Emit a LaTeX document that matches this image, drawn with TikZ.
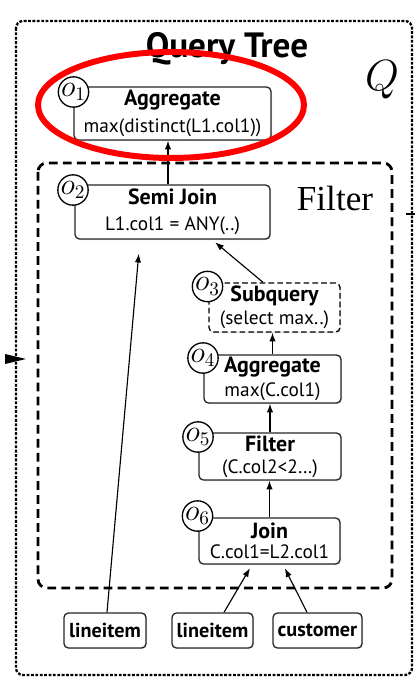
\documentclass[tikz,border=0pt]{standalone}
\usepackage{fontspec}
\setmainfont{PT Sans}
\newfontfamily\letraserif{Liberation Serif}
\usetikzlibrary{arrows.meta,calc,shadows}

\newcommand{\opnombre}[1]{{\fontsize{12.5}{15}\selectfont\bfseries #1}}

\tikzset{
	caja/.style={draw=black!85, line width=.75pt, rounded corners=2.5pt, fill=white,
		drop shadow={opacity=.25, shadow xshift=.6pt, shadow yshift=-.6pt},
		align=center, inner sep=0pt, font=\fontsize{11}{15}\selectfont},
	hoja/.style={caja, minimum height=.7cm, font=\fontsize{11.5}{12}\selectfont\bfseries},
	oper/.style={circle, draw=black, line width=.75pt, fill=white,
		minimum size=.58cm, inner sep=0pt, font=\fontsize{16}{16}\selectfont},
	flecha/.style={-{Latex[length=5pt,width=3.6pt]}, line width=.65pt, black},
}

\begin{document}
\begin{tikzpicture}[x=.02cm, y=-.02cm]
\useasboundingbox (0,0) rectangle (415,678);

%%%%%%%%%%%%%%%%%%%%%%%%%%%%%%%%%%%%%%%%%%%%%%%% 	MARCO EXTERIOR (Q)
\draw[black, line width=1.3pt, dash pattern=on 1.6pt off .9pt,
			rounded corners=4pt] (16,21) rectangle (412,675);
\node[font=\fontsize{20}{20}\selectfont\bfseries, anchor=base] (titulo) at (227,58) {Query Tree};
\node[font=\fontsize{23}{23}\selectfont, anchor=base] (q) at (382,91) {$Q$};

\fill (5,354) -- (26,359) -- (5,364) -- cycle;		%%%%	flecha que entra por la izquierda
\draw[line width=1.5pt] (406,214) -- (415,214);		%%%%	salida por la derecha

%%%%%%%%%%%%%%%%%%%%%%%%%%%%%%%%%%%%%%%%%%%%%%%% 	CAJA DEL FILTRO
\draw[line width=1.6pt, dash pattern=on 5pt off 3pt,
			rounded corners=5pt] (38,163) rectangle (392,588);
\node[font=\letraserif\fontsize{20}{20}\selectfont, anchor=base] (filtro) at (335,211) {Filter};

%%%%%%%%%%%%%%%%%%%%%%%%%%%%%%%%%%%%%%%%%%%%%%%% 	OPERADORES
\node[caja, minimum width=3.94cm, minimum height=1.06cm] (agg1) at (172.5,113.5)
	{\opnombre{Aggregate}\\max(distinct(L1.col1))};
\node[caja, minimum width=3.9cm, minimum height=1.08cm] (semi) at (172.5,212)
	{\opnombre{Semi Join}\\L1.col1 = ANY(..)};
\node[caja, draw=black, dash pattern=on 3.2pt off 1.8pt, minimum width=2.62cm, minimum height=.98cm,
	font=\fontsize{11}{13}\selectfont] (subq) at (274.5,307.5)
	{\opnombre{Subquery}\\(select max..)};
\node[caja, minimum width=2.74cm, minimum height=.96cm,
	font=\fontsize{11}{14}\selectfont] (agg2) at (272.5,379)
	{\opnombre{Aggregate}\\max(C.col1)};
\node[caja, minimum width=2.84cm, minimum height=.94cm,
	font=\fontsize{11}{12.5}\selectfont] (filt) at (270,456.5)
	{\opnombre{Filter}\\(C.col2<2\dots)};
\node[caja, minimum width=2.82cm, minimum height=.92cm,
	font=\fontsize{11}{11.5}\selectfont] (join) at (269.5,541)
	{\opnombre{Join}\\C.col1=L2.col1};

%%%%%%%%%%%%%%%%%%%%%%%%%%%%%%%%%%%%%%%%%%%%%%%% 	TABLAS
\node[hoja, minimum width=1.64cm] (li1) at (105,630.5) {lineitem};
\node[hoja, minimum width=1.62cm] (li2) at (212.5,630.5) {lineitem};
\node[hoja, minimum width=1.78cm] (cust) at (317.5,630.5) {customer};

%%%%%%%%%%%%%%%%%%%%%%%%%%%%%%%%%%%%%%%%%%%%%%%% 	ETIQUETAS o_i
\node[oper] (c1) at (73.5,92) {$o_1$};
\node[oper] (c2) at (73,190) {$o_2$};
\node[oper] (c3) at (207.5,286.5) {$o_3$};
\node[oper] (c4) at (203,358) {$o_4$};
\node[oper] (c5) at (198,437) {$o_5$};
\node[oper] (c6) at (197.5,516) {$o_6$};

%%%%%%%%%%%%%%%%%%%%%%%%%%%%%%%%%%%%%%%%%%%%%%%% 	FLECHAS
\draw[flecha] ([xshift=-.09cm]semi.north) -- ([xshift=-.09cm]agg1.south);
\draw[flecha, shorten >=2.3pt] ([xshift=-.23cm]subq.north) -- ([xshift=.79cm]semi.south);
\draw[flecha] (agg2.north) -- (agg2.north |- subq.south);
\draw[flecha] (filt.north) -- (filt.north |- agg2.south);
\draw[flecha] (join.north) -- (join.north |- filt.south);
\draw[flecha, shorten >=8pt] ([xshift=.04cm]li1.north) -- ([xshift=-.65cm]semi.south);
\draw[flecha, shorten >=2.3pt] ([xshift=.23cm]li2.north) -- ([xshift=-.35cm]join.south);
\draw[flecha, shorten >=2.3pt] ([xshift=-.21cm]cust.north) -- ([xshift=.27cm]join.south);

%%%%%%%%%%%%%%%%%%%%%%%%%%%%%%%%%%%%%%%%%%%%%%%% 	ELIPSE ROJA
\draw[red, line width=3.4pt] (171,105) ellipse (2.66cm and 1.06cm);

\end{tikzpicture}
\end{document}
